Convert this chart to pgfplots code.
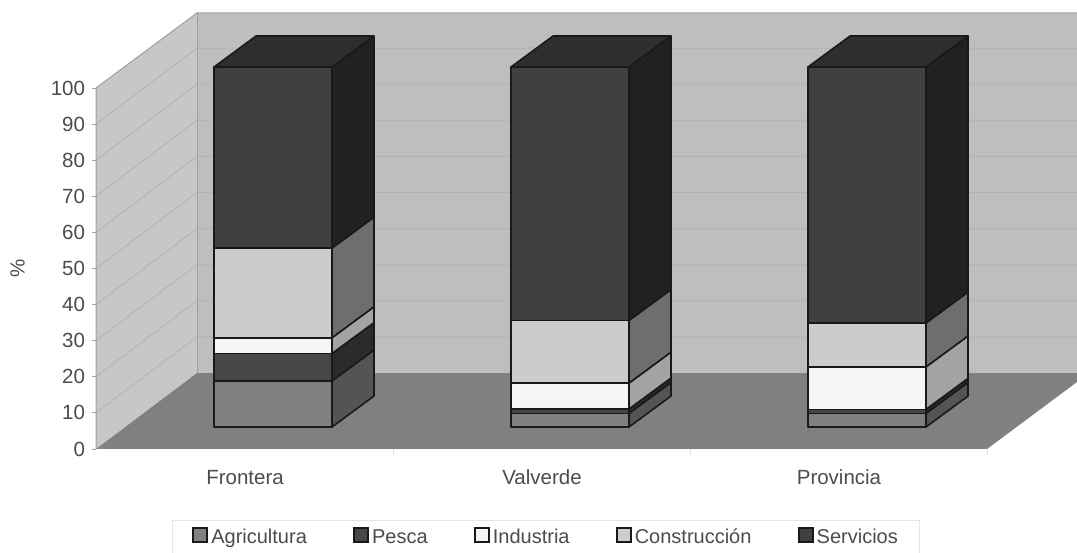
\documentclass[border=0pt]{standalone}
\usepackage{fontspec}
\setmainfont{Liberation Sans}
\usepackage{pgfplots}
\pgfplotsset{compat=1.18}

\definecolor{agri}{gray}{0.50}\definecolor{agris}{gray}{0.33}
\definecolor{pesc}{gray}{0.28}\definecolor{pescs}{gray}{0.17}
\definecolor{indu}{gray}{0.96}\definecolor{indus}{gray}{0.64}
\definecolor{cons}{gray}{0.80}\definecolor{conss}{gray}{0.43}
\definecolor{serv}{gray}{0.25}\definecolor{servs}{gray}{0.13}
\definecolor{servt}{gray}{0.18}
\definecolor{txt}{gray}{0.30}
\definecolor{gridc}{gray}{0.70}
\definecolor{edge}{gray}{0.10}

\pgfplotsset{
  bar/.style={draw=edge,line width=1.6pt,line join=round,forget plot},
  wall/.style={draw=none,forget plot},
  gl/.style={draw=gridc,line width=0.8pt,forget plot},
}

% one slice of a bar: left x (pixels), low, high, front colour, side colour
\newcommand{\seg}[5]{%
  \pgfmathsetmacro\xr{#1+118}%
  \pgfmathsetmacro\xb{#1+160}%
  \pgfmathsetmacro\lb{#2+8.6}%
  \pgfmathsetmacro\hb{#3+8.6}%
  \addplot[bar,fill=#5] coordinates {(\xr,#2)(\xb,\lb)(\xb,\hb)(\xr,#3)} -- cycle;
  \addplot[bar,fill=#4] coordinates {(#1,#2)(\xr,#2)(\xr,#3)(#1,#3)} -- cycle;
}
\newcommand{\topface}[1]{%
  \pgfmathsetmacro\xr{#1+118}%
  \pgfmathsetmacro\xb{#1+160}%
  \pgfmathsetmacro\xc{#1+42}%
  \addplot[bar,fill=servt] coordinates {(#1,100)(\xr,100)(\xb,108.6)(\xc,108.6)} -- cycle;
}

\begin{document}
\begin{tikzpicture}
\path[use as bounding box] (0,0) rectangle (1077pt,552pt);

% walls, floor, ticks
\begin{axis}[
  at={(96pt,103pt)},anchor=south west,
  scale only axis,width=891pt,height=361pt,
  xmin=96,xmax=987,ymin=0,ymax=100,
  clip=false,
  axis lines*=left,
  axis line style={draw=gray!75,line width=1pt},
  xtick={245,542,839},
  xticklabels={Frontera,Valverde,Provincia},
  minor xtick={393,690,987},
  ytick={0,10,...,100},
  /pgf/number format/assume math mode=true,
  tick label style={font=\fontsize{20.5}{22}\selectfont,text=txt},
  y tick style={draw=gray!75,line width=0.8pt},
  major y tick style={draw=gray!75},
  major x tick style={draw=none},
  minor x tick style={draw=gray!25,line width=0.6pt},
  tick align=outside,
  major tick length=4pt,
  minor tick length=6pt,
  yticklabel style={xshift=-3.5pt},
  xticklabel style={yshift=-14pt,text height=14pt,text depth=4pt},
  ylabel={\%},
  ylabel style={at={(axis description cs:-0.088,0.5)},anchor=center,font=\fontsize{20.5}{22}\selectfont,text=txt},
]
\addplot[wall,fill=black!22] coordinates {(96,0)(197,21.05)(197,120.8)(96,100)} -- cycle;
\addplot[wall,fill=black!25.5] coordinates {(197,21.05)(1077,21.05)(1077,120.8)(197,120.8)} -- cycle;
% grid
\addplot[gl] coordinates {(96,10)(197,31.05)(1077,31.05)};
\addplot[gl] coordinates {(96,20)(197,41.05)(1077,41.05)};
\addplot[gl] coordinates {(96,30)(197,51.05)(1077,51.05)};
\addplot[gl] coordinates {(96,40)(197,61.05)(1077,61.05)};
\addplot[gl] coordinates {(96,50)(197,71.05)(1077,71.05)};
\addplot[gl] coordinates {(96,60)(197,81.05)(1077,81.05)};
\addplot[gl] coordinates {(96,70)(197,91.05)(1077,91.05)};
\addplot[gl] coordinates {(96,80)(197,101.05)(1077,101.05)};
\addplot[gl] coordinates {(96,90)(197,111.05)(1077,111.05)};
% floor
\addplot[wall,fill=black!50] coordinates {(96,0)(987,0)(1077,18.56)(1077,21.05)(197,21.05)} -- cycle;
% wall outline
\addplot[draw=gray!75,line width=1pt,forget plot] coordinates {(96,0)(96,100)(197,120.8)(1077,120.8)};
\addplot[draw=gray!75,line width=1pt,forget plot] coordinates {(197,21.05)(197,120.8)};
\end{axis}

% bars and legend
\begin{axis}[
  at={(0pt,125pt)},anchor=south west,
  scale only axis,width=1077pt,height=360pt,
  xmin=0,xmax=1077,ymin=0,ymax=100,
  clip=false,hide axis,
  legend columns=5,
  legend image code/.code={\draw[#1] (0pt,-3.5pt) rectangle (14pt,10.5pt);\path[draw=none,fill=none] (0pt,0pt) -- (16pt,0pt);},
  legend style={
    at={(0.1597,-0.2583)},anchor=north west,
    draw=gray!20,line width=0.8pt,
    font=\fontsize{20}{22}\selectfont,text=txt,
    inner xsep=20pt,inner ysep=7pt,
    nodes={text height=14pt,text depth=4.5pt},
    /tikz/every even column/.append style={column sep=44.3pt},
  },
  legend cell align=left,
]
\addlegendimage{draw=edge,line width=1.8pt,fill=agri}\addlegendentry{Agricultura}
\addlegendimage{draw=edge,line width=1.8pt,fill=pesc}\addlegendentry{Pesca}
\addlegendimage{draw=edge,line width=1.8pt,fill=indu}\addlegendentry{Industria}
\addlegendimage{draw=edge,line width=1.8pt,fill=cons}\addlegendentry{Construcción}
\addlegendimage{draw=edge,line width=1.8pt,fill=serv}\addlegendentry{Servicios}

% Frontera
\seg{214}{0}{12.8}{agri}{agris}
\seg{214}{12.8}{20.4}{pesc}{pescs}
\seg{214}{20.4}{24.8}{indu}{indus}
\seg{214}{24.8}{49.7}{cons}{conss}
\seg{214}{49.7}{100}{serv}{servs}
\topface{214}
% Valverde
\seg{511}{0}{3.8}{agri}{agris}
\seg{511}{3.8}{5.0}{pesc}{pescs}
\seg{511}{5.0}{12.2}{indu}{indus}
\seg{511}{12.2}{29.6}{cons}{conss}
\seg{511}{29.6}{100}{serv}{servs}
\topface{511}
% Provincia
\seg{808}{0}{3.8}{agri}{agris}
\seg{808}{3.8}{4.9}{pesc}{pescs}
\seg{808}{4.9}{16.7}{indu}{indus}
\seg{808}{16.7}{28.9}{cons}{conss}
\seg{808}{28.9}{100}{serv}{servs}
\topface{808}
\end{axis}
\end{tikzpicture}
\end{document}
